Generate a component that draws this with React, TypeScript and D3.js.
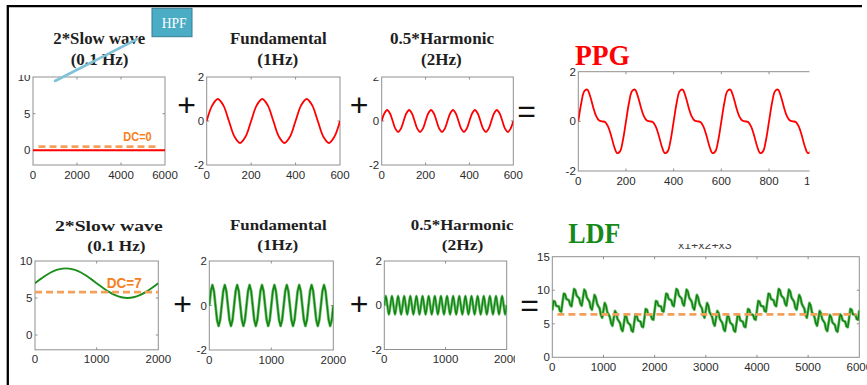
import React from "react";
import * as d3 from "d3";

// ---------------- DATA ----------------
// top row (PPG components)
const topSlowStep = 6000;
const topSlowValues = [0, 0];
const topSlowDcX = [250, 5620];
const topSlowDcY = [0.5, 0.5];

const topFundStep = 25;
const topFundValues = [
  0, 0.71, 1, 0.71, 0, -0.71, -1, -0.71,
  0, 0.71, 1, 0.71, 0, -0.71, -1, -0.71,
  0, 0.71, 1, 0.71, 0, -0.71, -1, -0.71,
  0,
];

const topHarmStep = 12.5;
const topHarmValues = [
  0, 0.35, 0.5, 0.35, 0, -0.35, -0.5, -0.35,
  0, 0.35, 0.5, 0.35, 0, -0.35, -0.5, -0.35,
  0, 0.35, 0.5, 0.35, 0, -0.35, -0.5, -0.35,
  0, 0.35, 0.5, 0.35, 0, -0.35, -0.5, -0.35,
  0, 0.35, 0.5, 0.35, 0, -0.35, -0.5, -0.35,
  0, 0.35, 0.5, 0.35, 0, -0.35, -0.5, -0.35,
  0,
];

const ppgStep = 12.5;
const ppgValues = [
  0, 0.74, 1.21, 1.28, 1, 0.57, 0.21, 0.03, 0, -0.03, -0.21, -0.57, -1, -1.28, -1.21, -0.74,
  0, 0.74, 1.21, 1.28, 1, 0.57, 0.21, 0.03, 0, -0.03, -0.21, -0.57, -1, -1.28, -1.21, -0.74,
  0, 0.74, 1.21, 1.28, 1, 0.57, 0.21, 0.03, 0, -0.03, -0.21, -0.57, -1, -1.28, -1.21, -0.74,
  0, 0.74, 1.21, 1.28, 1, 0.57, 0.21, 0.03, 0, -0.03, -0.21, -0.57, -1, -1.28, -1.21, -0.74,
  0, 0.74, 1.21, 1.28, 1, 0.57, 0.21, 0.03, 0, -0.03, -0.21, -0.57, -1, -1.28, -1.21, -0.74,
  0,
];

// bottom row (LDF components)
const botSlowStep = 100;
const botSlowValues = [
  7, 7.62, 8.18, 8.62, 8.9, 9, 8.9, 8.62, 8.18, 7.62, 7,
  6.38, 5.82, 5.38, 5.1, 5, 5.1, 5.38, 5.82, 6.38, 7,
];
const botSlowDcX = [0, 2000];
const botSlowDcY = [5.8, 5.8];

const botFundStep = 25;
const botFundValues = [
  0, 0.65, 0.92, 0.65, 0, -0.65, -0.92, -0.65,
  0, 0.65, 0.92, 0.65, 0, -0.65, -0.92, -0.65,
  0, 0.65, 0.92, 0.65, 0, -0.65, -0.92, -0.65,
  0, 0.65, 0.92, 0.65, 0, -0.65, -0.92, -0.65,
  0, 0.65, 0.92, 0.65, 0, -0.65, -0.92, -0.65,
  0, 0.65, 0.92, 0.65, 0, -0.65, -0.92, -0.65,
  0, 0.65, 0.92, 0.65, 0, -0.65, -0.92, -0.65,
  0, 0.65, 0.92, 0.65, 0, -0.65, -0.92, -0.65,
  0, 0.65, 0.92, 0.65, 0, -0.65, -0.92, -0.65,
  0, 0.65, 0.92, 0.65, 0, -0.65, -0.92, -0.65,
  0,
];

const botHarmStep = 25;
const botHarmValues = [
  0, 0.42, 0, -0.42, 0, 0.42, 0, -0.42, 0, 0.42, 0, -0.42, 0, 0.42, 0, -0.42,
  0, 0.42, 0, -0.42, 0, 0.42, 0, -0.42, 0, 0.42, 0, -0.42, 0, 0.42, 0, -0.42,
  0, 0.42, 0, -0.42, 0, 0.42, 0, -0.42, 0, 0.42, 0, -0.42, 0, 0.42, 0, -0.42,
  0, 0.42, 0, -0.42, 0, 0.42, 0, -0.42, 0, 0.42, 0, -0.42, 0, 0.42, 0, -0.42,
  0, 0.42, 0, -0.42, 0, 0.42, 0, -0.42, 0, 0.42, 0, -0.42, 0, 0.42, 0, -0.42,
  0,
];

const ldfStep = 25;
const ldfValues = [
  7.0, 8.4, 8.3, 7.7, 7.6, 7.6, 6.9, 6.8, 8.2, 9.5, 9.4, 8.7, 8.6, 8.5, 7.8, 7.6,
  8.9, 10.2, 10.0, 9.2, 9.0, 8.8, 8.0, 7.7, 8.9, 10.1, 9.8, 8.9, 8.6, 8.3, 7.4, 7.1,
  8.2, 9.3, 8.9, 8.0, 7.6, 7.3, 6.3, 5.9, 7.0, 8.1, 7.7, 6.7, 6.4, 6.0, 5.1, 4.7,
  5.8, 6.9, 6.6, 5.7, 5.4, 5.1, 4.2, 3.9, 5.1, 6.3, 6.0, 5.2, 5.0, 4.8, 4.0, 3.8,
  5.1, 6.4, 6.2, 5.5, 5.4, 5.3, 4.6, 4.5, 5.8, 7.2, 7.1, 6.4, 6.4, 6.3, 5.7, 5.6,
  7.0, 8.4, 8.3, 7.7, 7.6, 7.6, 6.9, 6.8, 8.2, 9.5, 9.4, 8.7, 8.6, 8.5, 7.8, 7.6,
  8.9, 10.2, 10.0, 9.2, 9.0, 8.8, 8.0, 7.7, 8.9, 10.1, 9.8, 8.9, 8.6, 8.3, 7.4, 7.1,
  8.2, 9.3, 8.9, 8.0, 7.6, 7.3, 6.3, 5.9, 7.0, 8.1, 7.7, 6.7, 6.4, 6.0, 5.1, 4.7,
  5.8, 6.9, 6.6, 5.7, 5.4, 5.1, 4.2, 3.9, 5.1, 6.3, 6.0, 5.2, 5.0, 4.8, 4.0, 3.8,
  5.1, 6.4, 6.2, 5.5, 5.4, 5.3, 4.6, 4.5, 5.8, 7.2, 7.1, 6.4, 6.4, 6.3, 5.7, 5.6,
  7.0, 8.4, 8.3, 7.7, 7.6, 7.6, 6.9, 6.8, 8.2, 9.5, 9.4, 8.7, 8.6, 8.5, 7.8, 7.6,
  8.9, 10.2, 10.0, 9.2, 9.0, 8.8, 8.0, 7.7, 8.9, 10.1, 9.8, 8.9, 8.6, 8.3, 7.4, 7.1,
  8.2, 9.3, 8.9, 8.0, 7.6, 7.3, 6.3, 5.9, 7.0, 8.1, 7.7, 6.7, 6.4, 6.0, 5.1, 4.7,
  5.8, 6.9, 6.6, 5.7, 5.4, 5.1, 4.2, 3.9, 5.1, 6.3, 6.0, 5.2, 5.0, 4.8, 4.0, 3.8,
  5.1, 6.4, 6.2, 5.5, 5.4, 5.3, 4.6, 4.5, 5.8, 7.2, 7.1, 6.4, 6.4, 6.3, 5.7, 5.6,
  7.0,
];
const ldfDcX = [100, 5950];
const ldfDcY = [6.4, 6.4];

// tick labels
const slowTopXTicks = [0, 2000, 4000, 6000];
const slowYTicks = [0, 5, 10];
const fundTopXTicks = [0, 200, 400, 600];
const unitYTicks = [-2, 0, 2];
const ppgXTicks = [0, 200, 400, 600, 800, 1000];
const bottomXTicks = [0, 1000, 2000];
const ldfXTicks = [0, 1000, 2000, 3000, 4000, 5000, 6000];
const ldfYTicks = [0, 5, 10, 15];

// ---------------- STYLE / LAYOUT ----------------
const W = 867;
const H = 385;
const RED = "#ff0000";
const GREEN = "#118511";
const GREEN_HALO = "#62b862";
const DASH = "#f5a05a";
const DC_TEXT = "#f7801e";
const BOX = "#8f8f8f";
const TICK_TEXT = "#2b2b2b";
const SANS = "'Liberation Sans', Arial, sans-serif";
const SERIF = "'Liberation Serif', 'Times New Roman', serif";

type Series = {
  values: number[];
  step: number;
  color: string;
  width: number;
  halo?: string;
  smooth?: boolean;
};
type Dash = { xs: number[]; ys: number[] };
type PanelCfg = {
  id: string;
  x0: number;
  x1: number;
  y0: number;
  y1: number;
  xDomain: [number, number];
  yDomain: [number, number];
  xTicks: number[];
  yTicks: number[];
  series: Series[];
  dash?: Dash;
  clipRight?: number;
  labelClipTop?: number;
};

const panels: PanelCfg[] = [
  {
    id: "ts", x0: 33, x1: 165, y0: 77, y1: 165,
    xDomain: [0, 6000], yDomain: [-2, 10],
    xTicks: slowTopXTicks, yTicks: slowYTicks,
    series: [{ values: topSlowValues, step: topSlowStep, color: RED, width: 2 }],
    dash: { xs: topSlowDcX, ys: topSlowDcY },
    labelClipTop: 75,
  },
  {
    id: "tf", x0: 206.7, x1: 340, y0: 77, y1: 165,
    xDomain: [0, 600], yDomain: [-2, 2],
    xTicks: fundTopXTicks, yTicks: unitYTicks,
    series: [{ values: topFundValues, step: topFundStep, color: RED, width: 1.8, smooth: true }],
  },
  {
    id: "th", x0: 381.7, x1: 513.3, y0: 77, y1: 165,
    xDomain: [0, 600], yDomain: [-2, 2],
    xTicks: fundTopXTicks, yTicks: unitYTicks,
    series: [{ values: topHarmValues, step: topHarmStep, color: RED, width: 1.8, smooth: true }],
    labelClipTop: 77.5,
  },
  {
    id: "ppg", x0: 578.3, x1: 816.7, y0: 71.7, y1: 171,
    xDomain: [0, 1000], yDomain: [-2, 2],
    xTicks: ppgXTicks, yTicks: unitYTicks,
    series: [{ values: ppgValues, step: ppgStep, color: RED, width: 1.8, smooth: true }],
    clipRight: 809.5,
  },
  {
    id: "bs", x0: 35, x1: 158.3, y0: 261, y1: 349.8,
    xDomain: [0, 2000], yDomain: [-2, 10],
    xTicks: bottomXTicks, yTicks: slowYTicks,
    series: [{ values: botSlowValues, step: botSlowStep, color: "#1c8e1c", width: 1.9, smooth: true }],
    dash: { xs: botSlowDcX, ys: botSlowDcY },
  },
  {
    id: "bf", x0: 209.3, x1: 333.3, y0: 261, y1: 350,
    xDomain: [0, 2000], yDomain: [-2, 2],
    xTicks: bottomXTicks, yTicks: unitYTicks,
    series: [{ values: botFundValues, step: botFundStep, color: GREEN, width: 1.5, halo: GREEN_HALO }],
  },
  {
    id: "bh", x0: 384.3, x1: 506.7, y0: 261, y1: 349.5,
    xDomain: [0, 2000], yDomain: [-2, 2],
    xTicks: bottomXTicks, yTicks: unitYTicks,
    series: [{ values: botHarmValues, step: botHarmStep, color: GREEN, width: 1.4, halo: GREEN_HALO, smooth: true }],
    clipRight: 515,
  },
  {
    id: "ldf", x0: 552.3, x1: 859.3, y0: 256.7, y1: 357.3,
    xDomain: [0, 6000], yDomain: [0, 15],
    xTicks: ldfXTicks, yTicks: ldfYTicks,
    series: [{ values: ldfValues, step: ldfStep, color: GREEN, width: 1.5, halo: GREEN_HALO }],
    dash: { xs: ldfDcX, ys: ldfDcY },
  },
];

type TitleCfg = { text: string; x: number; y: number; len: number; size: number };
const titles: TitleCfg[] = [
  { text: "2*Slow wave", x: 53.3, y: 44.3, len: 92, size: 16.5 },
  { text: "(0.1 Hz)", x: 70.7, y: 64.5, len: 57.7, size: 16.5 },
  { text: "Fundamental", x: 230, y: 44.3, len: 96.7, size: 16.5 },
  { text: "(1Hz)", x: 257.3, y: 64.5, len: 41, size: 16.5 },
  { text: "0.5*Harmonic", x: 390, y: 44.3, len: 104, size: 16.5 },
  { text: "(2Hz)", x: 421, y: 64.5, len: 40.7, size: 16.5 },
  { text: "2*Slow wave", x: 55, y: 230.5, len: 107.7, size: 15 },
  { text: "(0.1 Hz)", x: 87.3, y: 251, len: 58.3, size: 15 },
  { text: "Fundamental", x: 230, y: 229.5, len: 96.7, size: 15 },
  { text: "(1Hz)", x: 257.3, y: 250, len: 41, size: 15 },
  { text: "0.5*Harmonic", x: 410.7, y: 229.5, len: 102.7, size: 15 },
  { text: "(2Hz)", x: 441.7, y: 250, len: 41.7, size: 15 },
];

const operators = [
  { text: "+", x: 186.7, y: 104.5 },
  { text: "+", x: 359.2, y: 104.5 },
  { text: "=", x: 526.7, y: 111 },
  { text: "+", x: 182.5, y: 303.5 },
  { text: "+", x: 359.2, y: 303.5 },
  { text: "=", x: 529.5, y: 304.5 },
];

function Panel({ p }: { p: PanelCfg }) {
  const x = d3.scaleLinear().domain(p.xDomain).range([p.x0, p.x1]);
  const y = d3.scaleLinear().domain(p.yDomain).range([p.y1, p.y0]);
  const tick = 2.5;
  const clipRight = p.clipRight ?? W;
  const boxW = p.x1 - p.x0;
  const boxH = p.y1 - p.y0;
  const fmt = (v: number) => String(v);

  const paths = p.series.map((s) => {
    const gen = d3
      .line<number>()
      .x((_, i) => x(i * s.step))
      .y((d) => y(d))
      .curve(s.smooth ? d3.curveCatmullRom : d3.curveLinear);
    return { s, d: gen(s.values) || "" };
  });

  let dashPath = "";
  if (p.dash) {
    const dg = d3
      .line<number>()
      .x((d) => x(d))
      .y((_, i) => y(p.dash!.ys[i]));
    dashPath = dg(p.dash.xs) || "";
  }

  return (
    <g clipPath={`url(#pc-${p.id})`}>
      <defs>
        <clipPath id={`pc-${p.id}`}>
          <rect x={0} y={0} width={clipRight} height={H} />
        </clipPath>
        <clipPath id={`bc-${p.id}`}>
          <rect x={p.x0} y={p.y0} width={boxW} height={boxH} />
        </clipPath>
        <clipPath id={`lc-${p.id}`}>
          <rect x={0} y={p.labelClipTop ?? 0} width={W} height={H} />
        </clipPath>
      </defs>
      <rect x={p.x0} y={p.y0} width={boxW} height={boxH} fill="#fff" stroke={BOX} strokeWidth={1} />
      {/* ticks */}
      {p.xTicks.map((t) =>
        t === p.xDomain[0] || t === p.xDomain[1] ? null : (
          <g key={`xt${t}`} stroke={BOX} strokeWidth={1}>
            <line x1={x(t)} x2={x(t)} y1={p.y1} y2={p.y1 - tick} />
            <line x1={x(t)} x2={x(t)} y1={p.y0} y2={p.y0 + tick} />
          </g>
        )
      )}
      {p.yTicks.map((t) =>
        t === p.yDomain[0] || t === p.yDomain[1] ? null : (
          <g key={`yt${t}`} stroke={BOX} strokeWidth={1}>
            <line x1={p.x0} x2={p.x0 + tick} y1={y(t)} y2={y(t)} />
            <line x1={p.x1} x2={p.x1 - tick} y1={y(t)} y2={y(t)} />
          </g>
        )
      )}
      {/* curves */}
      <g clipPath={`url(#bc-${p.id})`}>
        {paths.map(({ s, d }, i) => (
          <g key={i}>
            {s.halo && (
              <path d={d} fill="none" stroke={s.halo} strokeWidth={s.width + 1.4} strokeLinejoin="round" opacity={0.85} />
            )}
            <path d={d} fill="none" stroke={s.color} strokeWidth={s.width} strokeLinejoin="round" />
          </g>
        ))}
        {dashPath && (
          <path d={dashPath} fill="none" stroke={DASH} strokeWidth={2.6} strokeDasharray="7,4" />
        )}
      </g>
      {/* tick labels */}
      <g fontFamily={SANS} fontSize={11.5} fill={TICK_TEXT}>
        {p.xTicks.map((t) => (
          <text key={`xl${t}`} x={x(t)} y={p.y1 + 13.5} textAnchor="middle">
            {fmt(t)}
          </text>
        ))}
        <g clipPath={`url(#lc-${p.id})`}>
          {p.yTicks.map((t) => (
            <text key={`yl${t}`} x={p.x0 - 2.5} y={y(t)} dy="0.36em" textAnchor="end">
              {fmt(t)}
            </text>
          ))}
        </g>
      </g>
    </g>
  );
}

export default function App() {
  return (
    <div style={{ position: "absolute", left: 0, top: 0, width: W, height: H, background: "#fff" }}>
      <svg width={W} height={H} viewBox={`0 0 ${W} ${H}`} style={{ display: "block" }}>
        <rect x={0} y={0} width={W} height={H} fill="#fff" />
        <defs>
          <clipPath id="formula-clip">
            <rect x={660} y={244} width={100} height={20} />
          </clipPath>
        </defs>
        {/* frame */}
        <line x1={8} x2={862} y1={6.2} y2={6.2} stroke="#000" strokeWidth={2.3} />
        <line x1={7.8} x2={7.8} y1={5} y2={H} stroke="#000" strokeWidth={2.3} />

        {panels.map((p) => (
          <Panel key={p.id} p={p} />
        ))}

        {/* titles */}
        <g fontFamily={SERIF} fontWeight="bold" fill="#1e1e1e">
          {titles.map((t, i) => (
            <text key={i} x={t.x} y={t.y} fontSize={t.size} textLength={t.len} lengthAdjust="spacingAndGlyphs">
              {t.text}
            </text>
          ))}
        </g>

        {/* DC labels */}
        <text x={123.3} y={140.7} fontFamily={SANS} fontWeight="bold" fontSize={12} fill={DC_TEXT} textLength={28.4} lengthAdjust="spacingAndGlyphs">
          DC=0
        </text>
        <text x={106.7} y={287.7} fontFamily={SANS} fontWeight="bold" fontSize={14} fill={DC_TEXT} textLength={35} lengthAdjust="spacingAndGlyphs">
          DC=7
        </text>

        {/* operators */}
        <g fontFamily={SANS} fontSize={32} fill="#111" textAnchor="middle">
          {operators.map((o, i) => (
            <text key={i} x={o.x} y={o.y} dominantBaseline="central">
              {o.text}
            </text>
          ))}
        </g>

        {/* big labels */}
        <text x={575} y={65} fontFamily={SERIF} fontWeight="bold" fontSize={29} fill="#ff0000" textLength={55} lengthAdjust="spacingAndGlyphs">
          PPG
        </text>
        <text x={568.3} y={243.3} fontFamily={SERIF} fontWeight="bold" fontSize={30} fill="#16891a" textLength={52} lengthAdjust="spacingAndGlyphs">
          LDF
        </text>
        <text x={678} y={248.5} fontFamily={SANS} fontSize={11} fill="#444" textLength={53.7} lengthAdjust="spacingAndGlyphs" clipPath="url(#formula-clip)">
          x1+x2+x3
        </text>

        {/* HPF box and pointer */}
        <rect x={152} y={8.3} width={40} height={28.4} fill="#4bacc6" stroke="#357f94" strokeWidth={1} />
        <text x={161.7} y={28.3} fontFamily={SERIF} fontSize={14} fill="#fff" textLength={25} lengthAdjust="spacingAndGlyphs">
          HPF
        </text>
        <line x1={55} y1={81} x2={136.7} y2={39.3} stroke="#7fc1d8" strokeWidth={2.6} strokeLinecap="round" />
      </svg>
    </div>
  );
}
